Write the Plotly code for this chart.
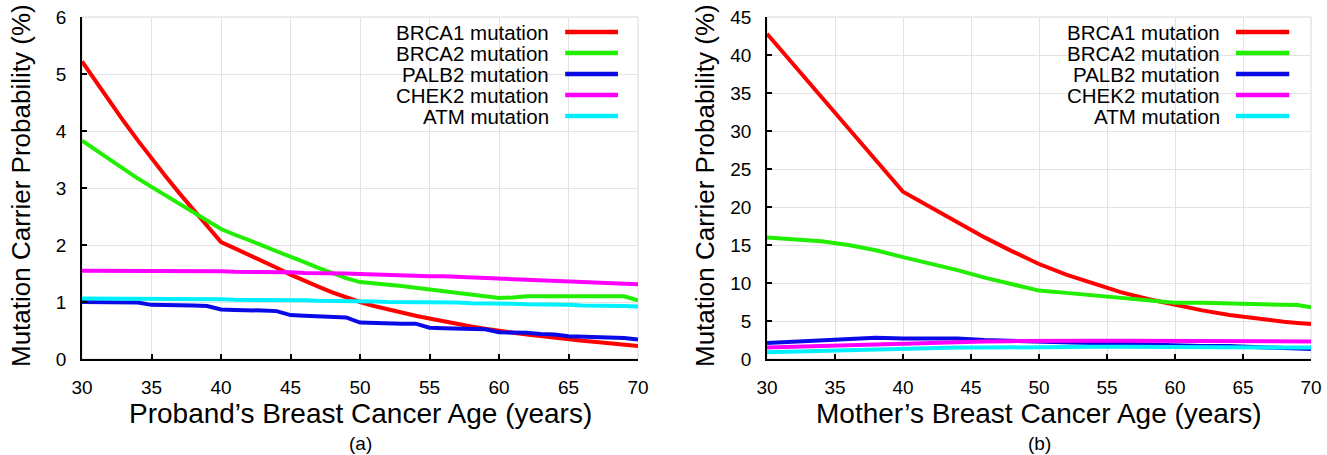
import plotly.graph_objects as go

# ---------------- data ----------------
ages_a = list(range(30, 71))
brca1_a = [5.22, 4.86, 4.51, 4.17, 3.84, 3.52, 3.21, 2.91, 2.62, 2.33,
           2.05, 1.94, 1.83, 1.72, 1.60, 1.48, 1.37, 1.27, 1.17, 1.08,
           1.00, 0.93, 0.87, 0.81, 0.76, 0.71, 0.66, 0.61, 0.57, 0.53,
           0.49, 0.46, 0.43, 0.40, 0.37, 0.35, 0.32, 0.30, 0.28, 0.26, 0.23]
brca2_a = [3.83, 3.66, 3.49, 3.33, 3.17, 3.02, 2.87, 2.72, 2.57, 2.42,
           2.28, 2.18, 2.09, 1.99, 1.89, 1.80, 1.70, 1.60, 1.51, 1.42,
           1.35, 1.33, 1.30, 1.28, 1.25, 1.22, 1.19, 1.16, 1.13, 1.10,
           1.07, 1.08, 1.10, 1.10, 1.10, 1.11, 1.11, 1.11, 1.11, 1.10, 1.03]
palb2_a = [1.00, 1.00, 1.00, 0.99, 0.99, 0.95, 0.95, 0.94, 0.94, 0.93,
           0.87, 0.86, 0.86, 0.85, 0.84, 0.77, 0.76, 0.75, 0.74, 0.73,
           0.64, 0.63, 0.63, 0.62, 0.62, 0.55, 0.54, 0.53, 0.53, 0.52,
           0.47, 0.47, 0.46, 0.44, 0.43, 0.40, 0.39, 0.39, 0.38, 0.37, 0.34]
chek2_a = [1.55, 1.55, 1.55, 1.55, 1.55, 1.55, 1.54, 1.54, 1.54, 1.54,
           1.54, 1.53, 1.53, 1.53, 1.52, 1.52, 1.51, 1.51, 1.50, 1.50,
           1.49, 1.48, 1.48, 1.47, 1.46, 1.45, 1.45, 1.44, 1.43, 1.42,
           1.41, 1.40, 1.39, 1.38, 1.37, 1.36, 1.35, 1.34, 1.33, 1.32, 1.31]
atm_a = [1.06, 1.06, 1.06, 1.05, 1.05, 1.05, 1.05, 1.05, 1.05, 1.05,
         1.05, 1.04, 1.04, 1.04, 1.03, 1.03, 1.03, 1.02, 1.02, 1.02,
         1.01, 1.01, 1.00, 1.00, 1.00, 0.99, 0.99, 0.99, 0.98, 0.98,
         0.97, 0.97, 0.96, 0.96, 0.95, 0.95, 0.94, 0.94, 0.93, 0.93, 0.92]

ages_b = [30, 32, 34, 36, 38, 40, 42, 44, 46, 48, 50, 52, 54, 56, 58,
          60, 62, 64, 66, 68, 69, 70]
brca1_b = [42.8, 38.6, 34.4, 30.2, 26.0, 22.0, 20.0, 18.0, 16.0, 14.2,
           12.5, 11.1, 9.9, 8.8, 7.9, 7.1, 6.4, 5.8, 5.3, 4.9, 4.75, 4.6]
brca2_b = [16.0, 15.8, 15.5, 15.0, 14.3, 13.4, 12.6, 11.7, 10.7, 9.8,
           9.0, 8.7, 8.4, 8.0, 7.7, 7.4, 7.4, 7.3, 7.3, 7.2, 7.1, 6.8]
palb2_b = [2.1, 2.3, 2.5, 2.6, 2.8, 2.7, 2.7, 2.7, 2.5, 2.4,
           2.2, 2.1, 2.0, 2.0, 1.9, 1.8, 1.7, 1.7, 1.6, 1.5, 1.45, 1.3]
chek2_b = [1.5, 1.6, 1.7, 1.85, 2.0, 2.1, 2.2, 2.25, 2.3, 2.35,
           2.4, 2.4, 2.4, 2.4, 2.4, 2.4, 2.4, 2.35, 2.35, 2.3, 2.3, 2.3]
atm_b = [0.9, 1.0, 1.1, 1.2, 1.3, 1.4, 1.45, 1.5, 1.5, 1.55,
         1.6, 1.6, 1.6, 1.6, 1.6, 1.6, 1.6, 1.6, 1.6, 1.55, 1.55, 1.5]

names = ["BRCA1 mutation", "BRCA2 mutation", "PALB2 mutation",
         "CHEK2 mutation", "ATM mutation"]
colors = ["#ff0000", "#22ee00", "#0a0ae6", "#ff00ff", "#00f0ff"]

x_ticks = [30, 35, 40, 45, 50, 55, 60, 65, 70]
y_ticks_a = [0, 1, 2, 3, 4, 5, 6]
y_ticks_b = [0, 5, 10, 15, 20, 25, 30, 35, 40, 45]

xtitle_a = "Proband\u2019s Breast Cancer Age (years)"
xtitle_b = "Mother\u2019s Breast Cancer Age (years)"
ytitle = "Mutation Carrier Probability (%)"

# ---------------- figure ----------------
FONT = "Liberation Sans, Arial, Helvetica, sans-serif"
fig = go.Figure()

series_a = [brca1_a, brca2_a, palb2_a, chek2_a, atm_a]
series_b = [brca1_b, brca2_b, palb2_b, chek2_b, atm_b]
for nm, col, ys in zip(names, colors, series_a):
    fig.add_trace(go.Scatter(x=ages_a, y=ys, mode="lines", name=nm,
                             line=dict(color=col, width=4), xaxis="x", yaxis="y",
                             showlegend=False))
for nm, col, ys in zip(names, colors, series_b):
    fig.add_trace(go.Scatter(x=ages_b, y=ys, mode="lines", name=nm,
                             line=dict(color=col, width=4), xaxis="x2", yaxis="y2",
                             showlegend=False))

W, H = 1327, 455
dom_xa = [82 / W, 638 / W]
dom_xb = [767 / W, 1311 / W]
dom_y = [1 - 359 / H, 1 - 17 / H]

axis_common = dict(showline=True, linecolor="black", linewidth=1.5,
                   ticks="inside", ticklen=5, tickcolor="black", tickwidth=1.5,
                   showgrid=True, gridcolor="#e3e3e3", gridwidth=1,
                   zeroline=False, automargin=False, mirror=False,
                   tickfont=dict(family=FONT, size=19, color="black"),
                   ticklabelstandoff=10)

fig.update_layout(
    width=W, height=H,
    margin=dict(l=0, r=0, t=0, b=0),
    paper_bgcolor="white", plot_bgcolor="white",
    font=dict(family=FONT, color="black"),
    xaxis=dict(domain=dom_xa, range=[30, 70], tickvals=x_ticks, anchor="y", **axis_common),
    yaxis=dict(domain=dom_y, range=[0, 6], tickvals=y_ticks_a, anchor="x", **axis_common),
    xaxis2=dict(domain=dom_xb, range=[30, 70], tickvals=x_ticks, anchor="y2", **axis_common),
    yaxis2=dict(domain=dom_y, range=[0, 45], tickvals=y_ticks_b, anchor="x2", **axis_common),
)

shapes = []
annotations = []
# light border for top/right
for xr, yr in (("x", "y"), ("x2", "y2")):
    shapes.append(dict(type="rect", xref=xr + " domain", yref=yr + " domain",
                       x0=0, x1=1, y0=0, y1=1, line=dict(color="#d8d8d8", width=1),
                       layer="below"))

legend_rows = [32, 53, 74, 95, 116]  # pixel rows
panels = [
    ("x", "y", 0.523, 0.842, 0.869, 0.964),
    ("x2", "y2", 0.50, 0.835, 0.862, 0.960),
]
for xr, yr, box_x0, txt_x, l0, l1 in panels:
    shapes.append(dict(type="rect", xref=xr + " domain", yref=yr + " domain",
                       x0=box_x0, x1=0.99, y0=(359 - 128) / 342, y1=(359 - 22) / 342,
                       fillcolor="white", line=dict(width=0), layer="below"))
    for nm, col, py in zip(names, colors, legend_rows):
        yy = (359 - py) / 342
        annotations.append(dict(xref=xr + " domain", yref=yr + " domain",
                                x=txt_x, y=yy, text=nm, showarrow=False,
                                xanchor="right", yanchor="middle", height=20,
                                valign="middle", borderpad=0,
                                font=dict(family=FONT, size=20.5, color="black")))
        shapes.append(dict(type="line", xref=xr + " domain", yref=yr + " domain",
                           x0=l0, x1=l1, y0=yy, y1=yy,
                           line=dict(color=col, width=4.5)))

# axis titles and captions
for cx, xt, cap in (((82 + 638) / 2 / W, xtitle_a, "(a)"),
                    ((767 + 1311) / 2 / W, xtitle_b, "(b)")):
    annotations.append(dict(xref="paper", yref="paper", x=cx, y=1 - 413 / H,
                            text=xt, showarrow=False, xanchor="center", yanchor="middle",
                            font=dict(family=FONT, size=28, color="black")))
    annotations.append(dict(xref="paper", yref="paper", x=cx, y=1 - 443 / H,
                            text=cap, showarrow=False, xanchor="center", yanchor="middle",
                            font=dict(family=FONT, size=19, color="black")))
for cx in (21 / W, 705 / W):
    annotations.append(dict(xref="paper", yref="paper", x=cx, y=1 - 186 / H,
                            text=ytitle, showarrow=False, textangle=-90,
                            xanchor="center", yanchor="middle",
                            font=dict(family=FONT, size=26, color="black")))

fig.update_layout(shapes=shapes, annotations=annotations)
fig.write_html("out.html")
